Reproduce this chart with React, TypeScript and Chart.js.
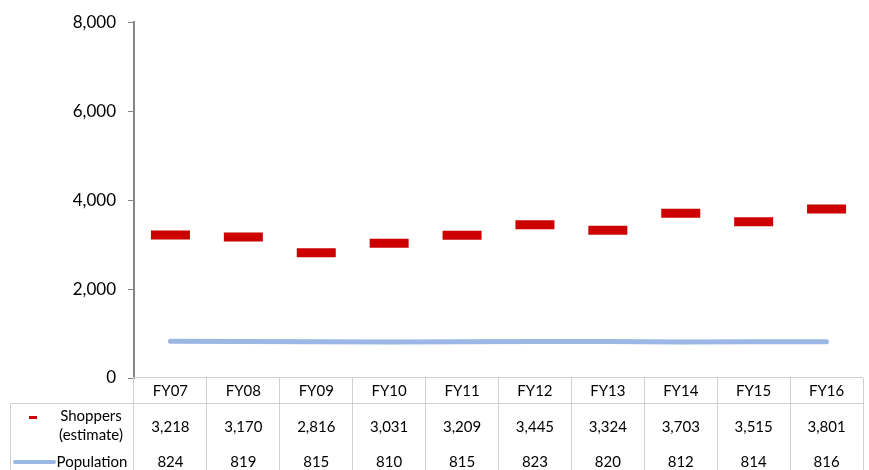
import React, { useEffect, useRef } from "react";
import { Chart, registerables } from "chart.js";

Chart.register(...registerables);

const categories = ["FY07", "FY08", "FY09", "FY10", "FY11", "FY12", "FY13", "FY14", "FY15", "FY16"];
const shoppers = [3218, 3170, 2816, 3031, 3209, 3445, 3324, 3703, 3515, 3801];
const population = [824, 819, 815, 810, 815, 823, 820, 812, 814, 816];
const yTicks = [0, 2000, 4000, 6000, 8000];
const shoppersLabel = ["Shoppers", "(estimate)"];
const populationLabel = "Population";

const RED = "#CC0000";
const BLUE = "#9BB7E3";
const FONT = "Lato, 'Open Sans', sans-serif";

const fmt = (v: number) => v.toLocaleString("en-US");

const tablePlugin = {
  id: "dataTable",
  afterDraw(chart: any) {
    const { ctx, chartArea, scales } = chart;
    const x = scales.x;
    const n = categories.length;
    const top = Math.round(chartArea.bottom);
    const headerBottom = top + 25;
    const bottom = chart.height;
    const half = (x.getPixelForValue(1) - x.getPixelForValue(0)) / 2;
    ctx.save();
    ctx.strokeStyle = "#D0D0D0";
    ctx.lineWidth = 1;
    const hline = (x1: number, x2: number, y: number) => {
      ctx.beginPath();
      ctx.moveTo(x1, Math.round(y) + 0.5);
      ctx.lineTo(x2, Math.round(y) + 0.5);
      ctx.stroke();
    };
    const vline = (xx: number, y1: number, y2: number) => {
      ctx.beginPath();
      ctx.moveTo(Math.round(xx) - 0.5, y1);
      ctx.lineTo(Math.round(xx) - 0.5, y2);
      ctx.stroke();
    };
    hline(chartArea.left - 1, chartArea.right, top - 1);
    hline(10, chartArea.right, headerBottom);
    for (let i = 0; i <= n; i++) {
      const xx = i < n ? x.getPixelForValue(i) - half : x.getPixelForValue(n - 1) + half;
      vline(i === 0 ? xx : xx + 0.5, top, bottom);
    }
    vline(11, headerBottom, bottom);

    ctx.fillStyle = "#000";
    ctx.textAlign = "center";
    ctx.textBaseline = "middle";
    ctx.font = `15px ${FONT}`;
    for (let i = 0; i < n; i++) {
      const cx = x.getPixelForValue(i);
      ctx.fillText(categories[i], cx, top + 13);
      ctx.fillText(fmt(shoppers[i]), cx, top + 49);
      ctx.fillText(fmt(population[i]), cx, top + 84);
    }
    ctx.fillStyle = RED;
    ctx.fillRect(29, top + 38, 8, 3);
    ctx.fillStyle = "#000";
    ctx.fillText(shoppersLabel[0], 91, top + 38);
    ctx.fillText(shoppersLabel[1], 91, top + 57);
    ctx.fillText(populationLabel, 92, top + 84);
    ctx.strokeStyle = BLUE;
    ctx.lineWidth = 4;
    ctx.lineCap = "round";
    ctx.beginPath();
    ctx.moveTo(15, top + 84);
    ctx.lineTo(54, top + 84);
    ctx.stroke();
    ctx.restore();
  },
};

export default function App() {
  const ref = useRef<HTMLCanvasElement | null>(null);
  useEffect(() => {
    if (!ref.current) return;
    const chart = new Chart(ref.current, {
      type: "line",
      data: {
        labels: categories,
        datasets: [
          {
            label: "Population",
            data: population,
            borderColor: BLUE,
            backgroundColor: BLUE,
            borderWidth: 5,
            borderCapStyle: "round",
            pointRadius: 0,
            tension: 0,
          },
          {
            label: "Shoppers (estimate)",
            data: shoppers,
            showLine: false,
            pointStyle: "line",
            pointRadius: 19.5,
            pointBorderWidth: 9,
            pointBorderColor: RED,
            pointBackgroundColor: RED,
            borderColor: RED,
          },
        ],
      },
      options: {
        responsive: false,
        animation: false,
        layout: { autoPadding: false, padding: { left: 0, top: 21, right: 6, bottom: 92 } },
        plugins: { legend: { display: false }, tooltip: { enabled: false } },
        scales: {
          x: { display: false, offset: true },
          y: {
            min: 0,
            max: 8000,
            afterBuildTicks: (scale: any) => {
              scale.ticks = yTicks.map((v) => ({ value: v }));
            },
            afterFit: (scale: any) => {
              scale.width = 134;
            },
            border: { display: true, color: "#868686", width: 2 },
            grid: { drawOnChartArea: false, drawTicks: true, tickLength: 6, color: "#868686", lineWidth: 1 },
            ticks: {
              padding: 12,
              color: "#000",
              font: { family: FONT, size: 17 },
              callback: (v: any) => fmt(Number(v)),
            },
          },
        },
      },
      plugins: [tablePlugin],
    });
    return () => chart.destroy();
  }, []);
  return (
    <div style={{ position: "fixed", left: 0, top: 0, width: 869, height: 470, background: "#fff" }}>
      <canvas ref={ref} width={869} height={470} style={{ display: "block" }} />
    </div>
  );
}
